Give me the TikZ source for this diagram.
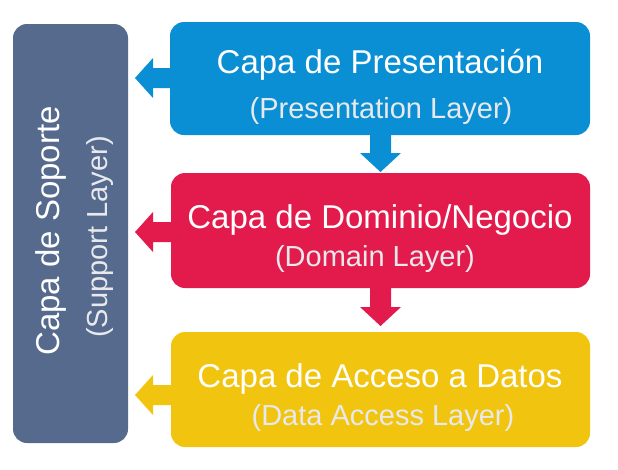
\documentclass[tikz,border=0pt]{standalone}
\usepackage{fontspec}
\setmainfont{Liberation Sans}
\definecolor{csup}{HTML}{566A8D}
\definecolor{cpres}{HTML}{0A8FD4}
\definecolor{cdom}{HTML}{E31B4C}
\definecolor{cdat}{HTML}{F1C40F}
\definecolor{csub}{HTML}{E8E9ED}
\begin{document}
\begin{tikzpicture}[x=1pt,y=-1pt,
  layerbox/.style={rounded corners=14pt, inner sep=0pt, draw=none},
  maintext/.style={text=white, font=\fontsize{33}{36}\selectfont, anchor=base, inner sep=0pt},
  subtext/.style={text=csub, font=\fontsize{29}{32}\selectfont, anchor=base, inner sep=0pt}]
\useasboundingbox (0,0) rectangle (618,469);
\node[layerbox, fill=csup, minimum width=115pt, minimum height=419pt] (sup) at (70.5,233.5) {};
\node[layerbox, fill=cpres, minimum width=420pt, minimum height=113pt] (pres) at (380,78.5) {};
\node[layerbox, fill=cdom, minimum width=419pt, minimum height=115pt] (dom) at (380.5,230.5) {};
\node[layerbox, fill=cdat, minimum width=419pt, minimum height=115pt] (dat) at (380.5,389.5) {};
% texts
\node[maintext] (t1) at (380,73) {Capa de Presentación};
\node[subtext] (s1) at (381,118) {(Presentation Layer)};
\node[maintext] (t2) at (380,228) {Capa de Dominio/Negocio};
\node[subtext] (s2) at (375,266) {(Domain Layer)};
\node[maintext] (t3) at (380,387) {Capa de Acceso a Datos};
\node[subtext] (s3) at (383,425) {(Data Access Layer)};
\node[maintext, rotate=90] (t0) at (59,231) {Capa de Soporte};
\node[subtext, rotate=90] (s0) at (107,237) {(Support Layer)};
% left block arrows (pointing to the support layer)
\fill[cpres] (174,68) -- (153,68) -- (153,58) -- (135,78) -- (153,98) -- (153,88) -- (174,88) -- cycle;
\fill[cdom] (174,222) -- (153,222) -- (153,212) -- (135,232) -- (153,252) -- (153,242) -- (174,242) -- cycle;
\fill[cdat] (174,385) -- (153,385) -- (153,375) -- (135,395) -- (153,415) -- (153,405) -- (174,405) -- cycle;
% down block arrows
\fill[cpres] (370,132) -- (370,153) -- (360,153) -- (380.5,172) -- (401,153) -- (391,153) -- (391,132) -- cycle;
\fill[cdom] (370,285) -- (370,307) -- (360,307) -- (380.5,326) -- (401,307) -- (391,307) -- (391,285) -- cycle;
\end{tikzpicture}
\end{document}
